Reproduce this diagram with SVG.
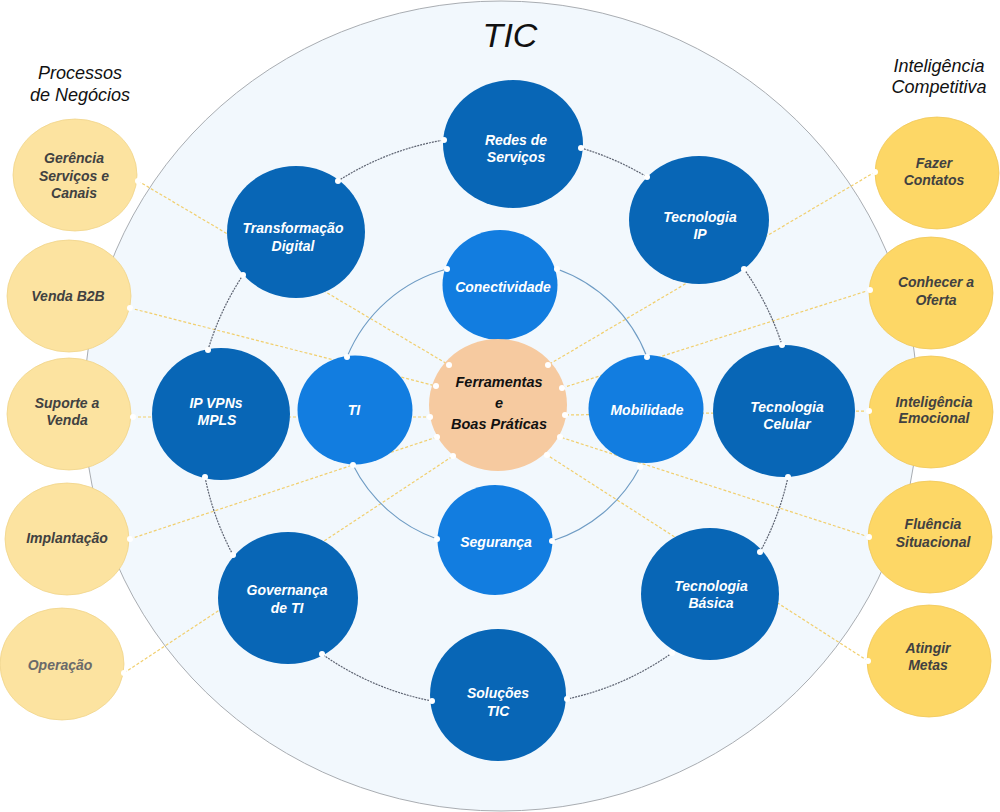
<svg xmlns="http://www.w3.org/2000/svg" width="1000" height="812" viewBox="0 0 1000 812">
<style>
.bg{fill:#ffffff}
.tic{fill:#f2f8fd;stroke:#a9adb2;stroke-width:1}
.outer{fill:#0866b6}
.inner{fill:#127de0}
.core{fill:#f6caa0}
.yl{fill:#fce3a0;stroke:#f0d48a;stroke-width:0.8}
.yr{fill:#fdd766;stroke:#f0c85a;stroke-width:0.8}
.ring{fill:none;stroke:#5e6472;stroke-width:1.2;stroke-dasharray:2 1}
.iring{fill:none;stroke:#6f9cc4;stroke-width:1.1}
.yline{fill:none;stroke:#f1cf6e;stroke-width:1.2;stroke-dasharray:3 2}
.dot{fill:#ffffff}
text{font-family:"Liberation Sans",Arial,sans-serif;text-anchor:middle}
.tw{fill:#ffffff;font-size:14px;font-weight:bold;font-style:italic}
.ty{fill:#414141;font-size:14px;font-weight:bold;font-style:italic}
.tg{fill:#6a6a6a;font-size:14px;font-weight:bold;font-style:italic}
.tc{fill:#111111;font-size:14.5px;font-weight:bold;font-style:italic}
.title{fill:#111111;font-size:18px;font-style:italic}
.big{fill:#111111;font-size:34px;font-style:italic}
</style>
<rect class="bg" x="0" y="0" width="1000" height="812"/>
<g id="tic-area">
<ellipse class="tic" cx="501" cy="406" rx="417" ry="405"/>
<text class="big" x="510" y="47">TIC</text>
</g>
<g id="titles">
<text class="title" x="80" y="79">Processos</text>
<text class="title" x="80" y="101">de Negócios</text>
<text class="title" x="939" y="72">Inteligência</text>
<text class="title" x="939" y="93">Competitiva</text>
</g>
<g id="connectors">
<path class="yline" d="M138,181 L449,365"/>
<path class="yline" d="M130,308 L436,386"/>
<path class="yline" d="M133,417 L430,417"/>
<path class="yline" d="M130,539 L437,437"/>
<path class="yline" d="M124,673 L453,456"/>
<path class="yline" d="M875,172 L548,365"/>
<path class="yline" d="M870,290 L562,388"/>
<path class="yline" d="M869,411 L565,415"/>
<path class="yline" d="M869,537 L560,437"/>
<path class="yline" d="M868,661 L547,455"/>
<path class="ring" d="M338,181 A283,283 0 0 1 444,140"/>
<path class="ring" d="M581,148 A283,283 0 0 1 647,177"/>
<path class="ring" d="M744,269 A283,283 0 0 1 782,345"/>
<path class="ring" d="M788,477 A283,283 0 0 1 760,552"/>
<path class="ring" d="M672,653 A283,283 0 0 1 567,699"/>
<path class="ring" d="M432,701 A283,283 0 0 1 322,654"/>
<path class="ring" d="M233,555 A283,283 0 0 1 205,477"/>
<path class="ring" d="M208,350 A283,283 0 0 1 243,275"/>
<path class="iring" d="M347,357 A150,150 0 0 1 447,269"/>
<path class="iring" d="M557,269 A150,150 0 0 1 647,357"/>
<path class="iring" d="M640,467 A150,150 0 0 1 552,541"/>
<path class="iring" d="M437,539 A150,150 0 0 1 353,465"/>
</g>
<g id="node-gerencia"><ellipse class="yl" cx="75" cy="175" rx="62" ry="56"/><text class="ty" x="74" y="163">Gerência</text><text class="ty" x="74" y="181">Serviços e</text><text class="ty" x="74" y="198">Canais</text></g>
<g id="node-venda"><ellipse class="yl" cx="69" cy="296" rx="62" ry="56"/><text class="ty" x="68" y="301">Venda B2B</text></g>
<g id="node-suporte"><ellipse class="yl" cx="69" cy="414" rx="62" ry="56"/><text class="ty" x="67" y="408">Suporte a</text><text class="ty" x="67" y="425">Venda</text></g>
<g id="node-implantacao"><ellipse class="yl" cx="67" cy="539" rx="62" ry="56"/><text class="ty" x="67" y="543">Implantação</text></g>
<g id="node-operacao"><ellipse class="yl" cx="62" cy="664" rx="62" ry="56"/><text class="tg" x="60" y="670">Operação</text></g>
<g id="node-fazer"><ellipse class="yr" cx="937" cy="173" rx="62" ry="56"/><text class="ty" x="934" y="168">Fazer</text><text class="ty" x="934" y="185">Contatos</text></g>
<g id="node-conhecer"><ellipse class="yr" cx="931" cy="293" rx="62" ry="56"/><text class="ty" x="936" y="287">Conhecer a</text><text class="ty" x="936" y="305">Oferta</text></g>
<g id="node-emocional"><ellipse class="yr" cx="931" cy="412" rx="62" ry="56"/><text class="ty" x="934" y="407">Inteligência</text><text class="ty" x="934" y="423">Emocional</text></g>
<g id="node-fluencia"><ellipse class="yr" cx="930" cy="537" rx="62" ry="56"/><text class="ty" x="933" y="529">Fluência</text><text class="ty" x="933" y="547">Situacional</text></g>
<g id="node-metas"><ellipse class="yr" cx="929" cy="661" rx="62" ry="56"/><text class="ty" x="928" y="653">Atingir</text><text class="ty" x="928" y="670">Metas</text></g>
<g id="node-redes"><ellipse class="outer" cx="513" cy="144" rx="70" ry="64"/><text class="tw" x="516" y="145">Redes de</text><text class="tw" x="516" y="162">Serviços</text></g>
<g id="node-transformacao"><ellipse class="outer" cx="296" cy="232" rx="69" ry="66"/><text class="tw" x="293" y="233">Transformação</text><text class="tw" x="293" y="251">Digital</text></g>
<g id="node-tecip"><ellipse class="outer" cx="699" cy="220" rx="70" ry="64"/><text class="tw" x="700" y="222">Tecnologia</text><text class="tw" x="700" y="239">IP</text></g>
<g id="node-ipvpn"><ellipse class="outer" cx="221" cy="414" rx="69" ry="66"/><text class="tw" x="216" y="408">IP VPNs</text><text class="tw" x="217" y="425">MPLS</text></g>
<g id="node-celular"><ellipse class="outer" cx="784" cy="411" rx="71" ry="66"/><text class="tw" x="787" y="412">Tecnologia</text><text class="tw" x="787" y="429">Celular</text></g>
<g id="node-governanca"><ellipse class="outer" cx="288" cy="598" rx="70" ry="66"/><text class="tw" x="287" y="595">Governança</text><text class="tw" x="287" y="613">de TI</text></g>
<g id="node-basica"><ellipse class="outer" cx="710" cy="594" rx="69" ry="66"/><text class="tw" x="711" y="591">Tecnologia</text><text class="tw" x="711" y="608">Básica</text></g>
<g id="node-solucoes"><ellipse class="outer" cx="498" cy="695" rx="68" ry="66"/><text class="tw" x="498" y="698">Soluções</text><text class="tw" x="498" y="716">TIC</text></g>
<g id="node-conectividade"><ellipse class="inner" cx="500" cy="285" rx="57.5" ry="55"/><text class="tw" x="503" y="292">Conectividade</text></g>
<g id="node-ti"><ellipse class="inner" cx="355" cy="410" rx="57.5" ry="54.5"/><text class="tw" x="354" y="415">TI</text></g>
<g id="node-mobilidade"><ellipse class="inner" cx="646" cy="409" rx="57.5" ry="54"/><text class="tw" x="647" y="415">Mobilidade</text></g>
<g id="node-seguranca"><ellipse class="inner" cx="495" cy="540" rx="57.5" ry="55"/><text class="tw" x="496" y="547">Segurança</text></g>
<g id="node-ferramentas"><ellipse class="core" cx="498" cy="405" rx="69" ry="66"/><text class="tc" x="499" y="387">Ferramentas</text><text class="tc" x="499" y="408">e</text><text class="tc" x="499" y="429">Boas Práticas</text></g>
<g id="connector-ends">
<circle class="dot" cx="138" cy="181" r="3"/><circle class="dot" cx="130" cy="308" r="3"/><circle class="dot" cx="133" cy="417" r="3"/><circle class="dot" cx="130" cy="539" r="3"/><circle class="dot" cx="124" cy="673" r="3"/>
<circle class="dot" cx="875" cy="172" r="3"/><circle class="dot" cx="870" cy="290" r="3"/><circle class="dot" cx="869" cy="411" r="3"/><circle class="dot" cx="869" cy="537" r="3"/><circle class="dot" cx="868" cy="661" r="3"/>
<circle class="dot" cx="449" cy="365" r="3"/><circle class="dot" cx="436" cy="386" r="3"/><circle class="dot" cx="430" cy="417" r="3"/><circle class="dot" cx="437" cy="437" r="3"/><circle class="dot" cx="453" cy="456" r="3"/>
<circle class="dot" cx="548" cy="365" r="3"/><circle class="dot" cx="562" cy="388" r="3"/><circle class="dot" cx="565" cy="415" r="3"/><circle class="dot" cx="560" cy="437" r="3"/><circle class="dot" cx="547" cy="455" r="3"/>
<circle class="dot" cx="338" cy="181" r="3"/><circle class="dot" cx="444" cy="140" r="3"/><circle class="dot" cx="581" cy="148" r="3"/><circle class="dot" cx="647" cy="177" r="3"/><circle class="dot" cx="744" cy="269" r="3"/><circle class="dot" cx="782" cy="345" r="3"/><circle class="dot" cx="788" cy="477" r="3"/><circle class="dot" cx="760" cy="552" r="3"/><circle class="dot" cx="672" cy="653" r="3"/><circle class="dot" cx="567" cy="699" r="3"/><circle class="dot" cx="432" cy="701" r="3"/><circle class="dot" cx="322" cy="654" r="3"/><circle class="dot" cx="233" cy="555" r="3"/><circle class="dot" cx="205" cy="477" r="3"/><circle class="dot" cx="208" cy="350" r="3"/><circle class="dot" cx="243" cy="275" r="3"/>
<circle class="dot" cx="347" cy="357" r="3"/><circle class="dot" cx="447" cy="269" r="3"/><circle class="dot" cx="557" cy="269" r="3"/><circle class="dot" cx="647" cy="357" r="3"/><circle class="dot" cx="640" cy="467" r="3"/><circle class="dot" cx="552" cy="541" r="3"/><circle class="dot" cx="437" cy="539" r="3"/><circle class="dot" cx="353" cy="465" r="3"/>
</g>
</svg>
